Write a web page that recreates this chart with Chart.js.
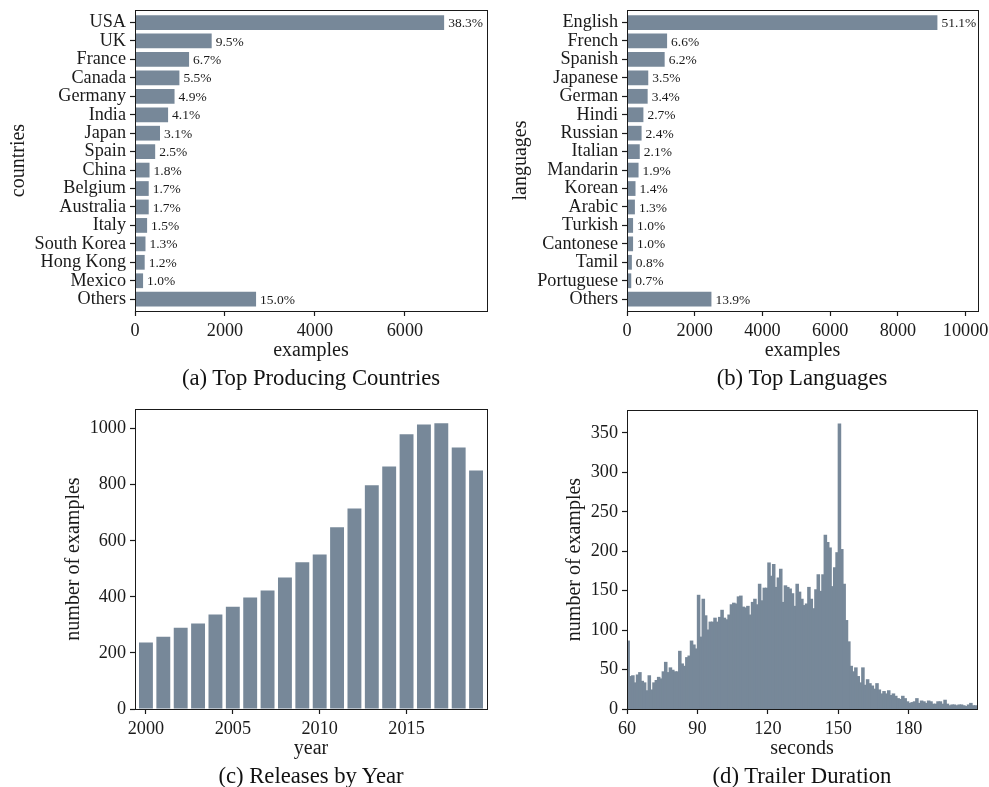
<!DOCTYPE html>
<html>
<head>
<meta charset="utf-8">
<title>Dataset statistics</title>
<script src="https://cdn.jsdelivr.net/npm/chart.js@4.4.1/dist/chart.umd.min.js"></script>
<style>
  body { margin: 0; background: #fff; width: 989px; height: 787px; position: relative; overflow: hidden; }
  canvas { position: absolute; }
  .caption {
    position: absolute; width: 400px; text-align: center; white-space: nowrap;
    font-family: 'Liberation Serif', 'Times New Roman', serif; font-size: 22.7px; line-height: 22px; color: #111;
  }
</style>
</head>
<body>
<canvas id="countriesChart" width="494" height="370" style="left:0;top:0"></canvas>
<canvas id="languagesChart" width="495" height="370" style="left:494px;top:0"></canvas>
<canvas id="yearsChart" width="494" height="372" style="left:0;top:395px"></canvas>
<canvas id="durationChart" width="495" height="372" style="left:494px;top:395px"></canvas>
<div class="caption" style="left:111px;top:367px">(a) Top Producing Countries</div>
<div class="caption" style="left:602px;top:367px">(b) Top Languages</div>
<div class="caption" style="left:111px;top:765px">(c) Releases by Year</div>
<div class="caption" style="left:602px;top:765px">(d) Trailer Duration</div>
<script>
// --- data ---
const totalExamples = 17940;

const countries = ['USA', 'UK', 'France', 'Canada', 'Germany', 'India', 'Japan', 'Spain', 'China',
  'Belgium', 'Australia', 'Italy', 'South Korea', 'Hong Kong', 'Mexico', 'Others'];
const countryShare = [38.3, 9.5, 6.7, 5.5, 4.9, 4.1, 3.1, 2.5, 1.8, 1.7, 1.7, 1.5, 1.3, 1.2, 1.0, 15.0];

const languages = ['English', 'French', 'Spanish', 'Japanese', 'German', 'Hindi', 'Russian', 'Italian',
  'Mandarin', 'Korean', 'Arabic', 'Turkish', 'Cantonese', 'Tamil', 'Portuguese', 'Others'];
const languageShare = [51.1, 6.6, 6.2, 3.5, 3.4, 2.7, 2.4, 2.1, 1.9, 1.4, 1.3, 1.0, 1.0, 0.8, 0.7, 13.9];

const years = [2000, 2001, 2002, 2003, 2004, 2005, 2006, 2007, 2008, 2009,
  2010, 2011, 2012, 2013, 2014, 2015, 2016, 2017, 2018, 2019];
const releases = [237, 258, 290, 305, 337, 365, 398, 423, 469, 523,
  551, 648, 715, 798, 865, 980, 1015, 1019, 933, 851];

// trailer length histogram, one-second bins starting at 60 s
const durationStart = 60;
const durationCounts = [
  86, 41, 42, 33, 43, 46, 35, 33, 23, 42, 24, 33, 36, 40, 38, 47, 59, 46, 52, 49,
  47, 47, 73, 57, 54, 65, 67, 86, 81, 76,
  144, 91, 139, 118, 100, 110, 110, 115, 110, 116, 125, 115, 113, 119, 132, 134, 133, 142, 143, 129,
  128, 130, 119, 135, 139, 132, 158, 137, 153, 153,
  185, 168, 183, 154, 166, 177, 135, 156, 154, 152, 146, 130, 158, 148, 139, 131, 133, 154, 139, 127,
  151, 170, 149, 170, 220, 211, 204, 155, 179, 198,
  361, 202, 158, 112, 85, 54, 47, 52, 41, 33, 52, 30, 37, 32, 29, 25, 32, 24, 19, 22,
  19, 23, 17, 19, 16, 13, 12, 16, 13, 9, 7, 8, 9, 13, 7, 10, 9, 7, 10, 9,
  6, 6, 9, 9, 6, 11, 6, 4, 5, 5, 4, 5, 5, 4, 3, 5, 7, 4, 4
];

const countryTicks = [0, 2000, 4000, 6000];
const languageTicks = [0, 2000, 4000, 6000, 8000, 10000];
const yearTicks = [2000, 2005, 2010, 2015];
const releaseTicks = [0, 200, 400, 600, 800, 1000];
const durationTicks = [60, 90, 120, 150, 180];
const durationCountTicks = [0, 50, 100, 150, 200, 250, 300, 350];

// --- style ---
const FONT = "'Liberation Serif', 'Times New Roman', serif";
const INK = '#1a1a1a';
const BAR = '#778899';

// axes box around the plot area
const boxFrame = {
  id: 'boxFrame',
  afterDraw(chart) {
    const {ctx, chartArea: a} = chart;
    ctx.save();
    ctx.strokeStyle = INK;
    ctx.lineWidth = 1;
    ctx.strokeRect(Math.round(a.left) + 0.5, Math.round(a.top) + 0.5,
      Math.round(a.right - a.left), Math.round(a.bottom - a.top));
    ctx.restore();
  }
};

// percentage text at the end of each horizontal bar
const shareLabels = {
  id: 'shareLabels',
  afterDatasetsDraw(chart, args, opts) {
    if (!opts.labels) return;
    const {ctx} = chart;
    ctx.save();
    ctx.font = '13.5px ' + FONT;
    ctx.fillStyle = INK;
    ctx.textBaseline = 'middle';
    chart.getDatasetMeta(0).data.forEach((bar, i) => {
      ctx.fillText(opts.labels[i], bar.x + 4, bar.y + 1);
    });
    ctx.restore();
  }
};

function axis({min, max, ticks, title, titlePad, size, horizontal, reverse, labelOf}) {
  return {
    type: 'linear',
    min, max,
    reverse: !!reverse,
    offset: false,
    afterBuildTicks: s => { s.ticks = ticks.map(v => ({value: v})); },
    afterFit: s => {
      if (horizontal) s.height = size; else s.width = size;
      s.paddingLeft = s.paddingRight = s.paddingTop = s.paddingBottom = 0;
    },
    grid: {offset: false, drawOnChartArea: false, drawTicks: true, tickLength: 5, tickWidth: 1.2, tickColor: INK},
    border: {display: false},
    ticks: {
      color: INK, font: {family: FONT, size: 18.2}, padding: 4,
      autoSkip: false, maxRotation: 0, minRotation: 0,
      callback: labelOf || (v => String(v))
    },
    title: {display: true, text: title, color: INK, font: {family: FONT, size: 20}, padding: titlePad}
  };
}

const baseOptions = {
  responsive: false,
  animation: false,
  events: []
};

// --- (a) countries ---
new Chart(document.getElementById('countriesChart'), {
  type: 'bar',
  data: {
    datasets: [{
      data: countryShare.map((s, i) => ({x: s / 100 * totalExamples, y: i})),
      backgroundColor: BAR, borderWidth: 0, barPercentage: 0.8, categoryPercentage: 1
    }]
  },
  options: {
    ...baseOptions,
    indexAxis: 'y',
    layout: {padding: {top: 10, right: 7, left: 0, bottom: 0}},
    plugins: {
      legend: {display: false}, tooltip: {enabled: false},
      shareLabels: {labels: countryShare.map(s => s.toFixed(1) + '%')}
    },
    scales: {
      x: axis({min: 0, max: 7824, ticks: countryTicks, title: 'examples',
        titlePad: {top: 0, bottom: 7}, size: 59, horizontal: true}),
      y: axis({min: -0.68, max: 15.64, ticks: countries.map((c, i) => i), reverse: true,
        labelOf: v => countries[v], title: 'countries', titlePad: {top: 7, bottom: 0}, size: 135})
    }
  },
  plugins: [boxFrame, shareLabels]
});

// --- (b) languages ---
new Chart(document.getElementById('languagesChart'), {
  type: 'bar',
  data: {
    datasets: [{
      data: languageShare.map((s, i) => ({x: s / 100 * totalExamples, y: i})),
      backgroundColor: BAR, borderWidth: 0, barPercentage: 0.8, categoryPercentage: 1
    }]
  },
  options: {
    ...baseOptions,
    indexAxis: 'y',
    layout: {padding: {top: 10, right: 11, left: 0, bottom: 0}},
    plugins: {
      legend: {display: false}, tooltip: {enabled: false},
      shareLabels: {labels: languageShare.map(s => s.toFixed(1) + '%')}
    },
    scales: {
      x: axis({min: 0, max: 10366, ticks: languageTicks, title: 'examples',
        titlePad: {top: 0, bottom: 7}, size: 59, horizontal: true}),
      y: axis({min: -0.68, max: 15.64, ticks: languages.map((c, i) => i), reverse: true,
        labelOf: v => languages[v], title: 'languages', titlePad: {top: 15, bottom: 0}, size: 133})
    }
  },
  plugins: [boxFrame, shareLabels]
});

// --- (c) releases per year ---
new Chart(document.getElementById('yearsChart'), {
  type: 'bar',
  data: {
    datasets: [{
      data: years.map((y, i) => ({x: y, y: releases[i]})),
      backgroundColor: BAR, borderWidth: 0, barPercentage: 0.8, categoryPercentage: 1
    }]
  },
  options: {
    ...baseOptions,
    layout: {padding: {top: 14, right: 7, left: 0, bottom: 0}},
    plugins: {legend: {display: false}, tooltip: {enabled: false}},
    scales: {
      x: axis({min: 1999.37, max: 2019.63, ticks: yearTicks, title: 'year',
        titlePad: {top: 0, bottom: 6}, size: 58, horizontal: true}),
      y: axis({min: 0, max: 1070, ticks: releaseTicks, title: 'number of examples',
        titlePad: {top: 62, bottom: 0}, size: 135})
    }
  },
  plugins: [boxFrame]
});

// --- (d) trailer duration histogram ---
new Chart(document.getElementById('durationChart'), {
  type: 'bar',
  data: {
    datasets: [{
      data: durationCounts.map((c, i) => ({x: durationStart + i + 0.5, y: c})),
      backgroundColor: BAR, borderWidth: 0, barPercentage: 1, categoryPercentage: 1,
      inflateAmount: 0.6 // close the hairline gaps between neighbouring bins
    }]
  },
  options: {
    ...baseOptions,
    layout: {padding: {top: 15, right: 12, left: 0, bottom: 0}},
    plugins: {legend: {display: false}, tooltip: {enabled: false}},
    scales: {
      x: axis({min: 60, max: 209.1, ticks: durationTicks, title: 'seconds',
        titlePad: {top: 0, bottom: 6}, size: 58, horizontal: true}),
      y: axis({min: 0, max: 379, ticks: durationCountTicks, title: 'number of examples',
        titlePad: {top: 69, bottom: 0}, size: 133})
    }
  },
  plugins: [boxFrame]
});
</script>
</body>
</html>
